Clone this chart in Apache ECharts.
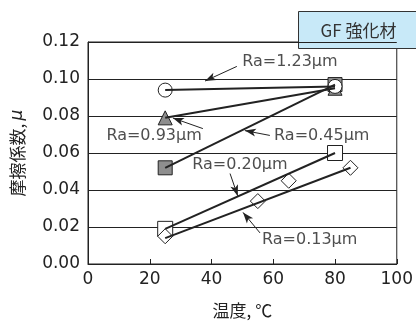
<!DOCTYPE html>
<html>
<head>
<meta charset="utf-8">
<script src="https://cdn.jsdelivr.net/npm/echarts@6/dist/echarts.min.js"></script>
<style>
  html, body { margin: 0; padding: 0; background: #fff; }
  #chart { width: 416px; height: 324px; }
</style>
</head>
<body>
<div id="chart"></div>
<script>
// Friction coefficient vs temperature for GF-reinforced material, by surface roughness Ra
const xTickValues = [0, 20, 40, 60, 80, 100];
const yTickValues = [0.00, 0.02, 0.04, 0.06, 0.08, 0.10, 0.12];

const ra123 = [[25, 0.094], [80, 0.096]];          // open circles
const ra093 = [[25, 0.079], [80, 0.095]];          // grey triangles
const ra045 = [[25, 0.052], [80, 0.097]];          // grey squares
const ra020 = [[25, 0.019], [80, 0.060]];          // open squares
const ra013 = [[25, 0.015], [55, 0.034], [65, 0.045], [85, 0.052]]; // open diamonds
const ra013Fit = [[25, 0.014], [85, 0.052]];       // trend line through the diamonds

// Callout texts, their anchor points and arrow paths (data coordinates)
const noteTexts = ['Ra=1.23µm', 'Ra=0.93µm', 'Ra=0.45µm', 'Ra=0.20µm', 'Ra=0.13µm'];
const noteAt = [[65.4, 0.1095], [21.4, 0.0695], [75.7, 0.0695], [49.2, 0.0537], [71.8, 0.0132]];
const arrowFrom = [[48.2, 0.1068], [37.2, 0.0732], [58.9, 0.0695], [46.0, 0.0489], [55.7, 0.0168]];
const arrowTo = [[37.9, 0.0989], [27.5, 0.0789], [50.8, 0.0721], [48.5, 0.0368], [50.2, 0.0279]];

const FONT = 'DejaVu Sans';
const JP = 'Noto Sans CJK JP';
const INK = '#222';
const GREY = '#8e8e8e';

const chart = echarts.init(document.getElementById('chart'), null, { renderer: 'canvas' });

function markerSeries(data, symbol, size, fill, z) {
  return {
    type: 'scatter', data: data, symbol: symbol, symbolSize: size, z: z,
    itemStyle: { color: fill, borderColor: INK, borderWidth: 1, opacity: 1 },
    silent: true
  };
}
function lineSeries(data, z) {
  return {
    type: 'line', data: data, showSymbol: false, symbol: 'none', z: z,
    lineStyle: { color: INK, width: 2 }, silent: true
  };
}

const option = {
  animation: false,
  backgroundColor: '#fff',
  grid: { left: 88, right: 19, top: 42, bottom: 54, show: true, borderColor: INK, borderWidth: 1 },
  xAxis: {
    type: 'value', min: xTickValues[0], max: xTickValues[xTickValues.length - 1], interval: 20,
    name: '温度, ℃', nameLocation: 'middle', nameGap: 38,
    nameTextStyle: { fontFamily: JP, fontSize: 17, color: INK },
    axisLine: { show: true, lineStyle: { color: INK, width: 1 } },
    axisTick: { show: true, inside: true, length: 5, lineStyle: { color: INK } },
    axisLabel: { fontFamily: FONT, fontSize: 17, color: INK, margin: 7 },
    splitLine: { show: false }
  },
  yAxis: {
    type: 'value', min: yTickValues[0], max: yTickValues[yTickValues.length - 1], interval: 0.02,
    name: '{a|摩擦係数,} {b|μ}', nameLocation: 'middle', nameGap: 62, nameRotate: 90,
    nameTextStyle: {
      color: INK,
      rich: {
        a: { fontFamily: JP, fontSize: 17, color: INK },
        b: { fontFamily: FONT, fontSize: 17, fontStyle: 'italic', color: INK }
      }
    },
    axisLine: { show: true, lineStyle: { color: INK, width: 1 } },
    axisTick: { show: false },
    axisLabel: { fontFamily: FONT, fontSize: 17, color: INK, margin: 8, formatter: v => v.toFixed(2) },
    splitLine: { show: true, lineStyle: { color: INK, width: 1 } }
  },
  series: [
    markerSeries(ra045, 'rect', 14, GREY, 2),
    markerSeries(ra093, 'triangle', 14, GREY, 3),
    markerSeries(ra123, 'circle', 14, '#fff', 4),
    markerSeries(ra020, 'rect', 15, '#fff', 2),
    markerSeries(ra013, 'diamond', 15, '#fff', 3),
    lineSeries(ra123, 6),
    lineSeries(ra093, 6),
    lineSeries(ra045, 6),
    lineSeries(ra020, 6),
    lineSeries(ra013Fit, 6),
    {
      // callout arrows
      type: 'line', data: [], z: 7, silent: true,
      markLine: {
        silent: true, animation: false,
        symbol: ['none', 'arrow'], symbolSize: [6, 11],
        lineStyle: { color: INK, width: 1, type: 'solid' },
        label: { show: false },
        emphasis: { disabled: true },
        data: arrowFrom.map((p, i) => [{ coord: p }, { coord: arrowTo[i] }])
      }
    },
    {
      // callout texts
      type: 'scatter', z: 8, silent: true, symbolSize: 0.01,
      itemStyle: { color: 'rgba(0,0,0,0)' },
      data: noteAt.map((p, i) => ({ value: p, name: noteTexts[i] })),
      label: {
        show: true, position: 'inside', formatter: '{b}',
        fontFamily: FONT, fontSize: 16, color: INK
      }
    }
  ],
  graphic: [
    {
      type: 'group', left: 298, top: 11, z: 20,
      children: [
        { type: 'rect', shape: { x: 0, y: 0, width: 130, height: 37 },
          style: { fill: '#c8e9f8', stroke: '#333', lineWidth: 1 } },
        { type: 'text', x: 60, y: 19,
          style: { text: 'GF 強化材', font: '17px "Noto Sans CJK JP"', fill: '#333',
                   textAlign: 'center', textVerticalAlign: 'middle' } }
      ]
    }
  ]
};

chart.setOption(option);
</script>
</body>
</html>
